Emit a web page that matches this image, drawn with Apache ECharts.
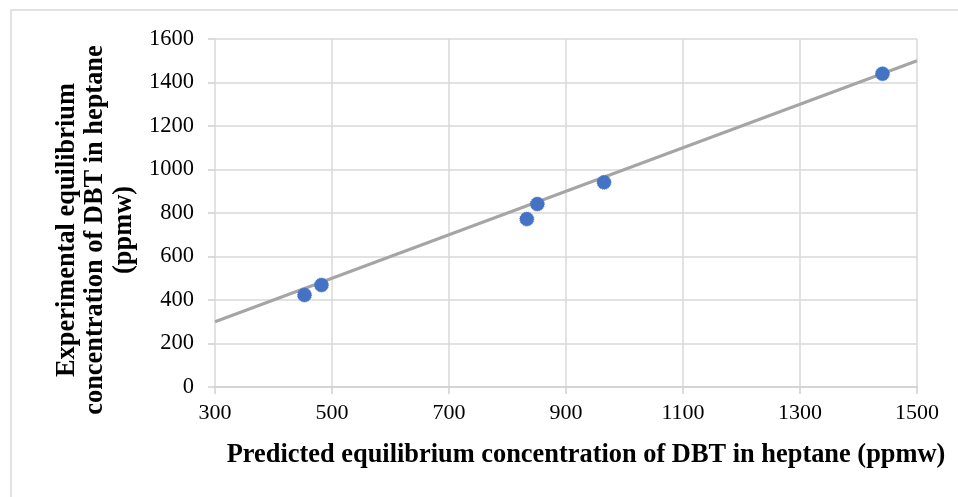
<!DOCTYPE html>
<html lang="en">
<head>
	<meta charset="UTF-8">
	<title>DBT equilibrium parity plot</title>
	<script src="https://cdn.jsdelivr.net/npm/echarts@6/dist/echarts.min.js"></script>
	<style>
		html, body { margin: 0; padding: 0; background: #fff; }
		.box { width: 958px; height: 497px; }
	</style>
</head>
<body>
	<div class="box" id="main"></div>

	<script>
		// predicted vs experimental (ppmw)
		let predicted = [453, 482, 833, 851, 965, 1441];
		let experimental = [423, 469, 772, 841, 941, 1440];
		// y = x reference line
		let lineX = [300, 1500];
		let lineY = [300, 1500];

		let font = 'Liberation Serif, Times New Roman, serif';
		let chart = echarts.init(document.getElementById('main'));

		let options = {
			animation: false,
			graphic: [{
				type: 'rect',
				shape: { x: 11, y: 10, width: 980, height: 520 },
				style: { fill: 'none', stroke: '#d9d9d9', lineWidth: 1.5 },
				silent: true
			}],
			grid: { left: 215, right: 41, top: 39, bottom: 110 },
			xAxis: {
				type: 'value',
				min: 300, max: 1500, interval: 200,
				name: 'Predicted equilibrium concentration of DBT in heptane (ppmw)',
				nameLocation: 'middle',
				nameGap: 55,
				nameTextStyle: { fontFamily: font, fontWeight: 'bold', fontSize: 26.4, color: '#000', padding: [0, 0, 0, 40] },
				axisLine: { show: true, lineStyle: { color: '#d0d0d0', width: 1.5 } },
				axisTick: { show: true, length: 7, lineStyle: { color: '#d0d0d0', width: 1.5 } },
				axisLabel: { fontFamily: font, fontSize: 22, color: '#000', margin: 15, formatter: v => String(v) },
				splitLine: { lineStyle: { color: '#d9d9d9', width: 1.5 } }
			},
			yAxis: {
				type: 'value',
				min: 0, max: 1600, interval: 200,
				name: 'Experimental equilibrium\nconcentration of DBT in heptane\n(ppmw)',
				nameLocation: 'middle',
				nameGap: 77,
				nameTextStyle: { fontFamily: font, fontWeight: 'bold', fontSize: 26.4, color: '#000', lineHeight: 28.5, padding: [0, 34, 0, 0] },
				axisLine: { show: false },
				axisTick: { show: true, length: 7, lineStyle: { color: '#d0d0d0', width: 1.5 } },
				axisLabel: { fontFamily: font, fontSize: 22.5, color: '#000', margin: 21, formatter: v => String(v) },
				splitLine: { lineStyle: { color: '#d9d9d9', width: 1.5 } }
			},
			series: [{
				type: 'line',
				data: lineX.map((x, i) => [x, lineY[i]]),
				symbol: 'none',
				lineStyle: { color: '#a5a5a5', width: 3 },
				z: 2
			}, {
				type: 'scatter',
				data: predicted.map((x, i) => [x, experimental[i]]),
				symbol: 'circle',
				symbolSize: 14,
				itemStyle: { color: '#4472c4', opacity: 1, borderColor: '#4472c4', borderWidth: 1, borderType: 'dotted' },
				z: 3
			}]
		};
		chart.setOption(options);
	</script>
</body>
</html>
